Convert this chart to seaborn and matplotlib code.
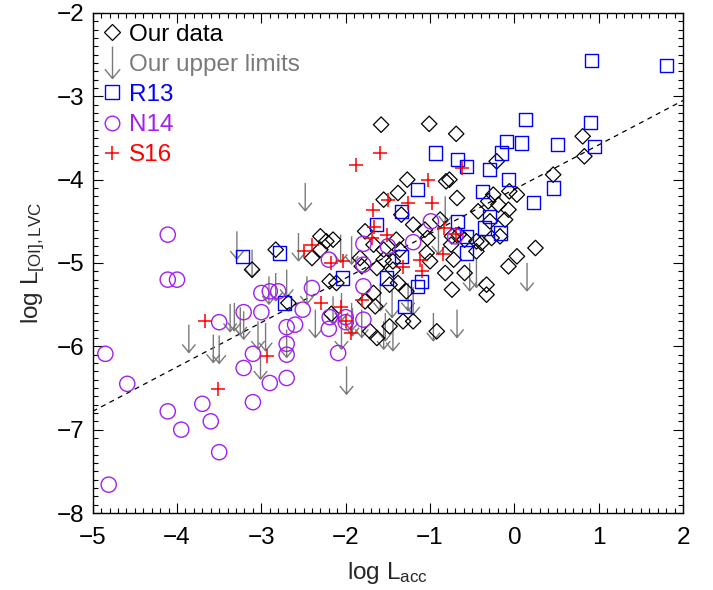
import numpy as np
import pandas as pd
import matplotlib
matplotlib.use("Agg")
import matplotlib.pyplot as plt
import seaborn as sns
from matplotlib.path import Path
from matplotlib.lines import Line2D
from matplotlib.ticker import MultipleLocator

# ---------------- data ----------------
our_x = [0.81, 0.83, 0.46, -0.21, 0.03, -0.06, -0.25, -0.19, -0.07, -0.31,
         -0.11, -0.17, -1.27, -0.81, -0.77, -0.68, -0.43, -1.55, -1.38, -1.34,
         -1.20, -1.06, -1.03, -1.40, -1.77, -1.67, -1.55, -1.36, -0.74, -0.66,
         -0.45, -0.88, -0.75, -0.39, 0.25, 0.03, -0.07, -0.45, -0.59, -0.82,
         -1.00, -1.04, -1.55, -1.63, -1.44, -1.81, -2.15, -2.19, -1.48, -1.38,
         -1.28, -0.74, -0.33, -0.33, -0.92, -1.20, -1.63, -1.65, -1.77, -1.67,
         -1.32, -1.71, -3.11, -2.83, -2.30, -2.23, -2.40, -2.30, -2.11, -2.68,
         -2.17, -1.83, -1.58, -1.01, -0.69, -0.27, -0.59, -0.72, -1.44, -0.29,
         -1.48]
our_y = [-3.48, -3.72, -3.94, -3.78, -4.18, -4.14, -4.18, -4.30, -4.36, -4.26,
         -4.48, -4.68, -4.00, -4.02, -4.00, -4.22, -4.38, -4.24, -4.16, -4.42,
         -4.54, -4.60, -4.70, -4.72, -4.62, -4.78, -4.84, -4.84, -4.68, -4.66,
         -4.74, -4.48, -4.78, -4.76, -4.82, -4.92, -5.04, -4.86, -5.12, -5.12,
         -4.98, -4.88, -4.96, -5.06, -5.08, -5.04, -4.72, -5.22, -5.26, -5.24,
         -5.34, -5.32, -5.26, -5.38, -5.82, -5.70, -5.90, -5.52, -5.46, -5.36,
         -5.70, -5.82, -5.08, -4.84, -4.68, -4.74, -4.94, -4.84, -5.24, -5.48,
         -5.61, -4.94, -3.34, -3.33, -3.45, -4.70, -4.72, -4.96, -4.98, -4.50,
         -5.76]

ul_x = [-3.29, -3.11, -3.86, -3.57, -3.50, -3.37, -3.32, -3.25, -3.21, -3.04,
        -2.95, -3.01, -2.91, -2.83, -2.70, -2.48, -2.56, -2.06, -2.46, -2.70,
        -2.36, -2.15, -2.05, -1.92, -1.99, -0.82, -0.90, -1.93, 0.15, -0.68,
        -0.96, -1.59, -1.45, -1.26, -1.55, -1.44, -1.81, -1.93, -2.05, -0.53,
        -0.45, -1.53, -1.20]
ul_y = [-4.62, -4.84, -5.74, -5.86, -5.87, -5.49, -5.48, -5.53, -5.58, -5.70,
        -5.72, -6.06, -5.16, -5.12, -5.08, -4.04, -4.64, -4.66, -5.16, -5.80,
        -5.56, -5.40, -5.70, -5.54, -6.24, -4.20, -4.56, -4.68, -5.00, -5.56,
        -5.60, -5.24, -5.32, -5.24, -5.70, -5.72, -5.56, -5.48, -5.36, -5.00,
        -4.96, -5.60, -5.29]

r13_x = [0.91, 1.80, 0.13, 0.90, -0.09, 0.08, 0.51, 0.95, -0.15, -0.29,
         -0.07, 0.46, 0.23, -0.38, -0.29, -0.35, -0.16, -0.94, -0.67, -0.57,
         -1.15, -1.34, -1.64, -0.67, -0.57, -0.57, -1.34, -1.52, -1.10, -2.04,
         -1.30, -3.22, -2.79, -2.72, -1.15]
r13_y = [-2.57, -2.63, -3.28, -3.32, -3.54, -3.56, -3.58, -3.60, -3.68, -3.88,
         -4.00, -4.10, -4.27, -4.14, -4.44, -4.58, -4.64, -3.68, -3.76, -3.84,
         -4.12, -4.38, -4.54, -4.50, -4.68, -4.88, -4.92, -5.18, -5.22, -5.18,
         -5.52, -4.92, -4.88, -5.48, -5.28]

n14_x = [-4.85, -4.81, -4.59, -4.11, -4.11, -4.00, -4.11, -3.95, -3.70, -3.60,
         -3.50, -3.50, -3.21, -3.00, -3.21, -3.10, -3.10, -2.90, -3.00, -2.90,
         -2.80, -2.70, -2.70, -2.70, -2.70, -2.60, -2.51, -2.40, -2.20, -2.19,
         -2.20, -2.00, -2.00, -2.09, -1.79, -1.79, -1.79, -1.79, -0.99, -1.20,
         -1.50, -0.70]
n14_y = [-6.09, -7.66, -6.45, -4.66, -5.20, -5.20, -6.78, -7.00, -6.69, -6.90,
         -7.27, -5.71, -5.59, -5.59, -6.26, -6.09, -6.67, -6.44, -5.36, -5.34,
         -5.34, -5.77, -5.97, -6.10, -6.38, -5.74, -5.56, -5.30, -4.96, -5.65,
         -5.79, -5.65, -5.71, -6.08, -4.77, -5.02, -5.28, -5.68, -4.50, -4.75,
         -4.80, -4.68]

s16_x = [-3.67, -2.93, -3.51, -2.40, -2.50, -2.17, -2.03, -2.29, -2.06, -2.00,
         -1.94, -1.88, -1.59, -0.62, -1.02, -1.50, -1.26, -0.98, -1.68, -1.66,
         -1.51, -1.69, -0.84, -0.69, -0.85, -1.12, -1.32, -1.09, -1.81]
s16_y = [-5.70, -6.12, -6.51, -4.78, -4.86, -5.00, -4.98, -5.48, -5.53, -5.70,
         -5.84, -3.82, -3.68, -3.86, -4.01, -4.24, -4.28, -4.28, -4.36, -4.57,
         -4.66, -4.70, -4.58, -4.65, -4.89, -4.96, -5.05, -5.10, -5.44]

fit_x = [-5.0, 2.0]
fit_y = [-6.78, -3.05]

legend_labels = ["Our data", "Our upper limits", "R13", "N14", "S16"]

# ---------------- style ----------------
sns.set_theme(style="ticks")
plt.rcParams['font.family'] = ['Liberation Sans', 'DejaVu Sans']
plt.rcParams['mathtext.fontset'] = 'custom'
plt.rcParams['mathtext.rm'] = 'Liberation Sans'
plt.rcParams['mathtext.it'] = 'Liberation Sans:italic'
plt.rcParams['axes.unicode_minus'] = True

BLACK = '#000000'
GREY = '#7a7a7a'
BLUE = '#0000ff'
PURPLE = '#a020f0'
RED = '#ff0000'
FS = 17.5

fig = plt.figure(figsize=(7.13, 5.90), dpi=100)
ax = fig.add_axes([0.130, 0.1305, 0.828, 0.8475])

arrow_marker = Path([(0, 0), (0, -1), (-0.24, -0.71), (0, -1), (0.24, -0.71)],
                    [Path.MOVETO, Path.LINETO, Path.MOVETO, Path.LINETO, Path.LINETO])
legend_arrow = Path([(0, 0.5), (0, -0.5), (-0.24, -0.21), (0, -0.5), (0.24, -0.21)],
                    [Path.MOVETO, Path.LINETO, Path.MOVETO, Path.LINETO, Path.LINETO])

# fit line
sns.lineplot(x=fit_x, y=fit_y, ax=ax, color='black', lw=0.9,
             linestyle=(0, (4, 3.6)), zorder=1)

# upper limits
sns.scatterplot(x=ul_x, y=ul_y, ax=ax, marker=arrow_marker, s=1600,
                facecolor='none', edgecolor=GREY, linewidth=1.0, zorder=2)
# our data
sns.scatterplot(x=our_x, y=our_y, ax=ax, marker='D', s=62,
                facecolor='none', edgecolor=BLACK, linewidth=0.9, zorder=3)
# R13
sns.scatterplot(x=r13_x, y=r13_y, ax=ax, marker='s', s=88,
                facecolor='none', edgecolor=BLUE, linewidth=1.0, zorder=4)
# N14
sns.scatterplot(x=n14_x, y=n14_y, ax=ax, marker='o', s=120,
                facecolor='none', edgecolor=PURPLE, linewidth=1.0, zorder=5)
# S16
sns.scatterplot(x=s16_x, y=s16_y, ax=ax, marker='+', s=110,
                color=RED, linewidth=1.1, zorder=6)

ax.set_xlim(-5, 2)
ax.set_ylim(-8, -2)
ax.xaxis.set_major_locator(MultipleLocator(1))
ax.yaxis.set_major_locator(MultipleLocator(1))
ax.xaxis.set_minor_locator(MultipleLocator(0.1))
ax.yaxis.set_minor_locator(MultipleLocator(0.1))
ax.tick_params(which='both', direction='in', top=True, right=True,
               colors='black', labelsize=FS)
ax.tick_params(which='major', length=7.5, width=0.8)
ax.tick_params(which='minor', length=3.7, width=0.8)
ax.tick_params(axis='x', which='major', pad=10)
ax.tick_params(axis='y', which='major', pad=6)
for sp in ax.spines.values():
    sp.set_visible(True)
    sp.set_linewidth(1.0)
    sp.set_color('black')

ax.set_xlabel(r'log L$_\mathrm{acc}$', fontsize=FS, labelpad=8)
ax.set_ylabel(r'log L$_\mathrm{[OI],LVC}$', fontsize=FS, labelpad=7)

handles = [
    Line2D([], [], ls='', marker='D', ms=7.9, mfc='none', mec=BLACK, mew=0.9),
    Line2D([], [], ls='', marker=legend_arrow, ms=23, mfc='none', mec=GREY, mew=1.0),
    Line2D([], [], ls='', marker='s', ms=9.4, mfc='none', mec=BLUE, mew=1.0),
    Line2D([], [], ls='', marker='o', ms=10.5, mfc='none', mec=PURPLE, mew=1.0),
    Line2D([], [], ls='', marker='+', ms=10.5, color=RED, mew=1.1),
]
leg = ax.legend(handles, legend_labels, loc='upper left', frameon=False,
                fontsize=FS, handlelength=0.7, handletextpad=0.35,
                labelspacing=0.33, borderaxespad=0.25, borderpad=0.2,
                labelcolor=[BLACK, GREY, BLUE, PURPLE, RED])

fig.savefig('out.png', dpi=100)
